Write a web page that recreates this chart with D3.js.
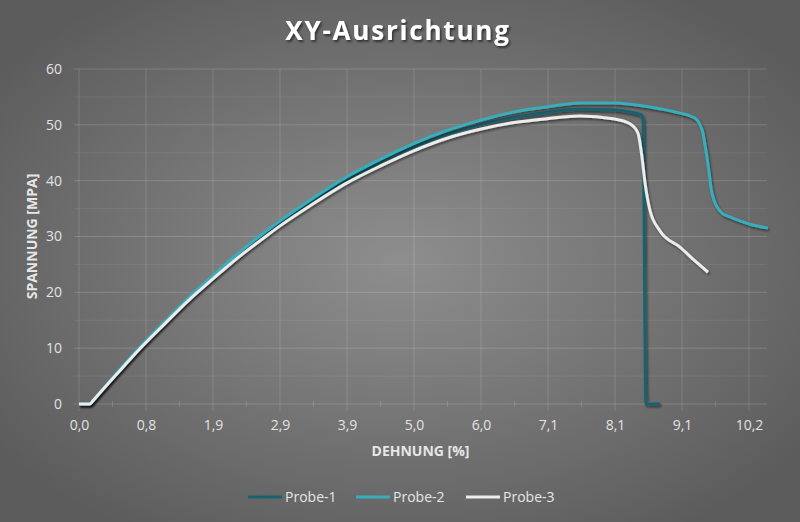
<!DOCTYPE html>
<html>
<head>
<meta charset="utf-8">
<script src="https://cdnjs.cloudflare.com/ajax/libs/d3/7.8.5/d3.min.js"></script>
<style>
	html, body { margin:0; padding:0; background:#6e6e6e; }
	svg { display:block; font-family:"Open Sans", sans-serif; }
</style>
</head>
<body>
<div id="chart"></div>
<script>
(function (){

	// Dehnung [%] an den Achsbeschriftungen (Kategorieachse, ungleich verteilt)
	var xTicks      = [0, 0.8, 1.9, 2.9, 3.9, 5.0, 6.0, 7.1, 8.1, 9.1, 10.2];
	var xTickLabels = ["0,0","0,8","1,9","2,9","3,9","5,0","6,0","7,1","8,1","9,1","10,2"];
	var yTicks      = [0, 10, 20, 30, 40, 50, 60];
	var yMinor      = [5, 15, 25, 35, 45, 55];

	var seriesNames  = ["Probe-1", "Probe-2", "Probe-3"];
	var seriesColors = ["#17626e", "#37adbc", "#ececec"];

	// [Dehnung %, Spannung MPa]
	var probe1 = [[0,0],[0.131,0],[0.167,0.6],[0.43,5.1],[0.728,10.0],[1.112,14.6],[1.523,19.0],[1.9,22.7],
		[2.303,26.9],[2.631,30.0],[2.9,32.4],[3.348,36.1],[3.9,40.2],[4.442,43.3],[4.984,46.0],
		[5.493,48.3],[5.985,50.0],[6.542,51.3],[7.084,52.2],[7.578,52.8],[8.07,52.7],[8.324,52.3],
		[8.488,51.8],[8.518,50.9],[8.563,0],[8.772,0]];
	var probe2 = [[0,0],[0.131,0],[0.167,0.6],[0.43,5.2],[0.728,10.2],[1.112,14.8],[1.523,19.3],[1.9,23.0],
		[2.303,27.3],[2.631,30.4],[2.9,32.8],[3.348,36.5],[3.9,40.7],[4.442,43.8],[4.984,46.6],
		[5.493,49.0],[5.985,50.8],[6.542,52.3],[7.084,53.2],[7.578,53.9],[8.07,53.9],[8.622,53.2],
		[9.07,52.1],[9.231,51.6],[9.346,50.9],[9.396,50.0],[9.445,48.5],[9.477,46.4],[9.510,44.2],
		[9.543,41.6],[9.576,38.7],[9.626,36.5],[9.675,35.3],[9.757,34.2],[9.888,33.5],[10.053,32.8],
		[10.217,32.2],[10.512,31.5]];
	var probe3 = [[0,0],[0.131,0],[0.167,0.6],[0.43,5.0],[0.728,9.9],[1.112,14.4],[1.523,18.8],[1.9,22.4],
		[2.303,26.5],[2.631,29.5],[2.9,31.9],[3.348,35.5],[3.9,39.6],[4.442,42.6],[4.984,45.3],
		[5.493,47.6],[5.985,49.2],[6.542,50.4],[7.084,51.1],[7.578,51.6],[8.07,51.1],[8.324,50.2],
		[8.443,48.5],[8.503,44.2],[8.548,39.6],[8.622,34.7],[8.772,31.0],[9.070,28.1],[9.346,25.3],
		[9.527,23.6]];

	var series = [probe1, probe2, probe3];

	var width = 800, height = 522;
	var margin = {top:69, left:74, right:33, bottom:118};
	var plotW = width - margin.left - margin.right;
	var plotH = height - margin.top - margin.bottom;
	var step = 67;
	var x0 = 5;

	var x = d3.scaleLinear()
			.domain(xTicks)
			.range(xTicks.map(function(d,i){ return x0 + i*step; }));
	var y = d3.scaleLinear().domain([0,60]).range([plotH,0]);

	var svg = d3.select("#chart").append("svg")
				.attr("width",width)
				.attr("height",height);

	var defs = svg.append("defs");
	var grad = defs.append("radialGradient")
				.attr("id","bg")
				.attr("cx","50%").attr("cy","50%").attr("r","62%");
	grad.append("stop").attr("offset","0%").attr("stop-color","#8e8e8e");
	grad.append("stop").attr("offset","100%").attr("stop-color","#5c5c5c");

	var shadow = defs.append("filter").attr("id","shadow")
				.attr("x","-10%").attr("y","-10%").attr("width","130%").attr("height","130%");
	shadow.append("feDropShadow")
		  .attr("dx",1.2).attr("dy",1.8).attr("stdDeviation",1.2)
		  .attr("flood-color","#000").attr("flood-opacity",0.5);

	var textShadow = defs.append("filter").attr("id","tshadow");
	textShadow.append("feDropShadow")
		  .attr("dx",1.5).attr("dy",2).attr("stdDeviation",1)
		  .attr("flood-color","#000").attr("flood-opacity",0.55);

	svg.append("rect")
		.attr("width",width).attr("height",height)
		.attr("fill","url(#bg)");

	svg.append("text")
		.attr("x",398).attr("y",40)
		.attr("text-anchor","middle")
		.style("font-size","26px")
		.style("font-weight","bold")
		.style("letter-spacing","1.8px")
		.attr("fill","#fff")
		.attr("filter","url(#tshadow)")
		.text("XY-Ausrichtung");

	var g = svg.append("g")
			.attr("transform","translate("+margin.left+","+margin.top+")");

	// Gitter
	g.selectAll(".minorY")
		.data(yMinor).enter()
		.append("line")
		.attr("x1",0).attr("x2",plotW)
		.attr("y1",function(d){ return y(d); })
		.attr("y2",function(d){ return y(d); })
		.attr("stroke","#fff").attr("stroke-opacity",0.07);

	g.selectAll(".majorY")
		.data(yTicks).enter()
		.append("line")
		.attr("x1",0).attr("x2",plotW)
		.attr("y1",function(d){ return y(d); })
		.attr("y2",function(d){ return y(d); })
		.attr("stroke","#fff").attr("stroke-opacity",0.16);

	g.selectAll(".majorX")
		.data(xTicks).enter()
		.append("line")
		.attr("x1",function(d){ return x(d); })
		.attr("x2",function(d){ return x(d); })
		.attr("y1",0).attr("y2",plotH+7)
		.attr("stroke","#fff").attr("stroke-opacity",0.14);

	g.selectAll(".minorX")
		.data(d3.range(xTicks.length-1)).enter()
		.append("line")
		.attr("x1",function(i){ return x0 + (i+0.5)*step; })
		.attr("x2",function(i){ return x0 + (i+0.5)*step; })
		.attr("y1",plotH-3).attr("y2",plotH+3)
		.attr("stroke","#fff").attr("stroke-opacity",0.14);

	// Achsen
	var yAxis = d3.axisLeft(y).tickValues(yTicks).tickSize(0).tickPadding(12);
	var yAxisG = g.append("g").call(yAxis);
	yAxisG.select(".domain").remove();
	yAxisG.selectAll("text")
		.style("font-size","14px")
		.style("font-family","Open Sans")
		.attr("fill","#e2e2e2");

	var xAxis = d3.axisBottom(x)
			.tickValues(xTicks)
			.tickFormat(function(d,i){ return xTickLabels[i]; })
			.tickSize(0).tickPadding(16);
	var xAxisG = g.append("g").attr("transform","translate(0,"+plotH+")").call(xAxis);
	xAxisG.select(".domain").remove();
	xAxisG.selectAll("text")
		.style("font-size","14px")
		.style("font-family","Open Sans")
		.attr("fill","#e2e2e2");

	g.append("text")
		.attr("x",plotW/2).attr("y",plotH+52)
		.attr("text-anchor","middle")
		.style("font-size","14px")
		.style("font-weight","bold")
		.attr("fill","#e6e6e6")
		.text("DEHNUNG [%]");

	g.append("text")
		.attr("transform","translate("+(-37)+","+(plotH/2)+") rotate(-90)")
		.attr("text-anchor","middle")
		.style("font-size","14px")
		.style("font-weight","bold")
		.attr("fill","#e6e6e6")
		.text("SPANNUNG [MPA]");

	// Kurven
	var line = d3.line()
			.x(function(d){ return x(d[0]); })
			.y(function(d){ return y(d[1]); })
			.curve(d3.curveMonotoneX);

	g.selectAll(".probe")
		.data(series).enter()
		.append("path")
		.attr("d",line)
		.attr("fill","none")
		.attr("stroke",function(d,i){ return seriesColors[i]; })
		.attr("stroke-width",3)
		.attr("stroke-linejoin","round")
		.attr("filter","url(#shadow)");

	// Legende
	var legendX = [248, 356, 466];
	var legend = svg.selectAll(".legend")
			.data(seriesNames).enter()
			.append("g")
			.attr("transform",function(d,i){ return "translate("+legendX[i]+",497)"; });

	legend.append("line")
		.attr("x1",0).attr("x2",34)
		.attr("y1",0).attr("y2",0)
		.attr("stroke",function(d,i){ return seriesColors[i]; })
		.attr("stroke-width",3);

	legend.append("text")
		.attr("x",37).attr("y",5)
		.style("font-size","14px")
		.attr("fill","#e6e6e6")
		.text(function(d){ return d; });

})();
</script>
</body>
</html>
